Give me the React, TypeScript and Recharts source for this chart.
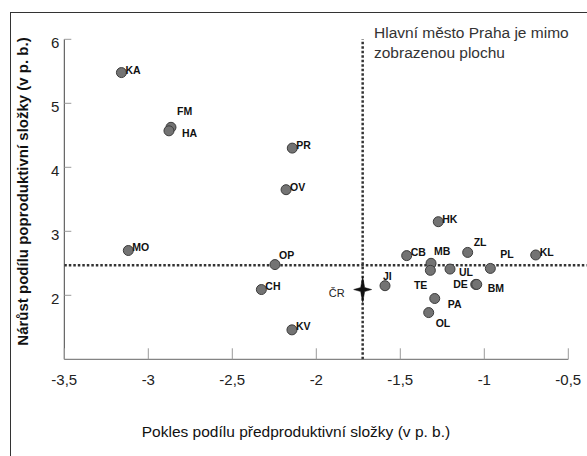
import { ScatterChart, Scatter, XAxis, YAxis, ReferenceLine, Label } from 'recharts';

// kraje (okresy) - zkratky, pokles předproduktivní a nárůst poproduktivní složky
const codes = ['KA', 'FM', 'HA', 'PR', 'OV', 'MO', 'OP', 'CH', 'KV', 'HK', 'CB', 'ZL', 'KL', 'MB', 'TE', 'UL', 'PL', 'DE', 'BM', 'JI', 'PA', 'OL'];
const xValues = [-3.16, -2.865, -2.877, -2.143, -2.18, -3.119, -2.246, -2.327, -2.145, -1.274, -1.462, -1.099, -0.694, -1.317, -1.321, -1.204, -0.964, -1.051, -1.045, -1.591, -1.295, -1.331];
const yValues = [5.48, 4.625, 4.57, 4.3, 3.65, 2.7, 2.48, 2.09, 1.46, 3.15, 2.62, 2.67, 2.63, 2.5, 2.39, 2.41, 2.42, 2.17, 2.17, 2.15, 1.95, 1.73];

const crLabel = 'ČR';
const crX = -1.724;
const crY = 2.09;

const avgX = -1.724;
const avgY = 2.47;

const xTicks = [-3.5, -3, -2.5, -2, -1.5, -1, -0.5];
const yTicks = [2, 3, 4, 5, 6];

const points = codes.map((code, i) => ({ code, x: xValues[i], y: yValues[i] }));
const crPoint = [{ code: crLabel, x: crX, y: crY }];

// label offset from the dot: dx, dy, anchor
const labelPos: Record<string, [number, number, 'start' | 'end']> = {
  KA: [4, -3, 'start'],
  FM: [6, -16, 'start'],
  HA: [13, 2, 'start'],
  PR: [4, -3, 'start'],
  OV: [4, -3, 'start'],
  MO: [4, -4, 'start'],
  OP: [4, -10, 'start'],
  CH: [4, -4, 'start'],
  KV: [4, -4, 'start'],
  HK: [4, -3, 'start'],
  CB: [4, -4, 'start'],
  ZL: [6, -10, 'start'],
  KL: [4, -3, 'start'],
  MB: [3, -12, 'start'],
  TE: [-3, 15, 'end'],
  UL: [9, 3, 'start'],
  PL: [10, -14, 'start'],
  DE: [-8, 0, 'end'],
  BM: [11, 4, 'start'],
  JI: [-2, -10, 'start'],
  PA: [13, 5, 'start'],
  OL: [7, 10, 'start'],
  'ČR': [-18, 3, 'end'],
};

const font = '"Liberation Sans", Arial, sans-serif';

const fmt = (v: number) => String(v).replace('.', ',');

function PointLabel({ cx, cy, code }: { cx: number; cy: number; code: string }) {
  const [dx, dy, anchor] = labelPos[code] || [4, -3, 'start'];
  return (
    <text x={cx + dx} y={cy + dy} textAnchor={anchor} dominantBaseline="central"
      fontSize={10.5} fontWeight="bold" fill="#111" fontFamily={font}>
      {code}
    </text>
  );
}

function Dot(props: any) {
  const { cx, cy, payload } = props;
  return (
    <g>
      <circle cx={cx} cy={cy} r={5} fill="#737373" stroke="#3c3c3c" strokeWidth={1} />
      <PointLabel cx={cx} cy={cy} code={payload.code} />
    </g>
  );
}

function Star(props: any) {
  const { cx, cy, payload } = props;
  const d = `M${cx},${cy - 13} L${cx + 2},${cy - 2} L${cx + 9},${cy} L${cx + 2},${cy + 2} L${cx},${cy + 13} L${cx - 2},${cy + 2} L${cx - 9},${cy} L${cx - 2},${cy - 2} Z`;
  return (
    <g>
      <path d={d} fill="#111" stroke="#111" strokeWidth={0.5} />
      <text x={cx - 18} y={cy + 3} textAnchor="end" dominantBaseline="central"
        fontSize={11} fill="#222" fontFamily={font}>{payload.code}</text>
    </g>
  );
}

function XTick(props: any) {
  const { x, y, payload } = props;
  return (
    <g>
      <line x1={x} x2={x} y1={y} y2={y - 11} stroke="#9a9a9a" strokeWidth={1} />
      <text x={x} y={y + 20} textAnchor="middle" dominantBaseline="central"
        fontSize={15} fill="#222" fontFamily={font}>{fmt(payload.value)}</text>
    </g>
  );
}

function YTick(props: any) {
  const { x, y, payload } = props;
  return (
    <g>
      <line x1={x} x2={x + 7} y1={y} y2={y} stroke="#9a9a9a" strokeWidth={1} />
      <text x={x - 5} y={y + 3} textAnchor="end" dominantBaseline="central"
        fontSize={15} fill="#222" fontFamily={font}>{fmt(payload.value)}</text>
    </g>
  );
}

export default function App() {
  return (
    <div style={{ position: 'absolute', left: 0, top: 0, width: 587, height: 456, overflow: 'hidden', background: '#fff' }}>
      <div style={{ position: 'absolute', left: 10, top: 12, width: 620, height: 480, borderLeft: '1.5px solid #333', borderTop: '1.5px solid #333' }} />
      <div style={{ position: 'absolute', left: 0, top: 0 }}>
        <ScatterChart width={587} height={456} margin={{ top: 39.3, right: 18.7, left: 24.3, bottom: 66.7 }}>
          <XAxis type="number" dataKey="x" domain={[-3.5, -0.5]} ticks={xTicks} allowDataOverflow
            height={30} tickSize={0} tickMargin={0} tickLine={false} stroke="#666" tick={<XTick />}>
            <Label content={() => (
              <text x={296} y={431} textAnchor="middle" dominantBaseline="central"
                fontSize={15.5} fill="#111" fontFamily={font}>
                Pokles podílu předproduktivní složky (v p. b.)
              </text>
            )} />
          </XAxis>
          <YAxis type="number" dataKey="y" domain={[1, 6]} ticks={yTicks} allowDataOverflow
            width={40} tickSize={0} tickMargin={0} tickLine={false} stroke="#444" tick={<YTick />}>
            <Label content={() => (
              <text x={22} y={191.5} textAnchor="middle" dominantBaseline="central"
                transform="rotate(-90 22 191.5)" fontSize={15} fontWeight="bold" fill="#111" fontFamily={font}>
                Nárůst podílu poproduktivní složky (v p. b.)
              </text>
            )} />
          </YAxis>
          <ReferenceLine x={avgX} stroke="#333" strokeWidth={2.5} strokeDasharray="2.5 2">
            <Label content={() => (
              <text x={374} y={33} fontSize={15.5} fill="#333" fontFamily={font}>
                <tspan x={374} dy={5}>Hlavní město Praha je mimo</tspan>
                <tspan x={374} dy={20}>zobrazenou plochu</tspan>
              </text>
            )} />
          </ReferenceLine>
          <ReferenceLine segment={[{ x: -3.5, y: avgY }, { x: -0.39, y: avgY }]} ifOverflow="visible"
            stroke="#333" strokeWidth={2.5} strokeDasharray="2.5 2" />
          <Scatter data={points} shape={<Dot />} isAnimationActive={false} />
          <Scatter data={crPoint} shape={<Star />} isAnimationActive={false} />
        </ScatterChart>
      </div>
    </div>
  );
}
